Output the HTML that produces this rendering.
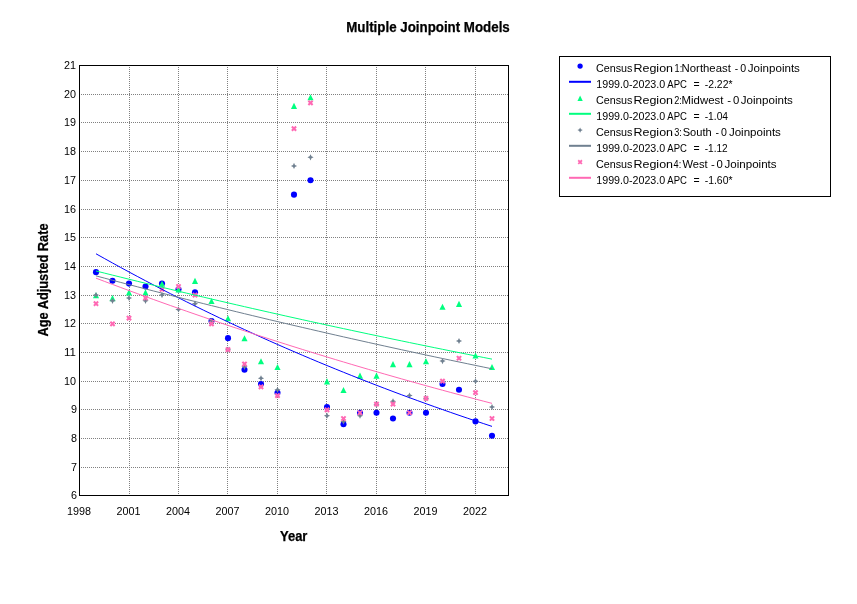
<!DOCTYPE html>
<html><head><meta charset="utf-8"><title>Multiple Joinpoint Models</title>
<style>
html,body{margin:0;padding:0;background:#fff;}
body{width:857px;height:604px;overflow:hidden;}
svg{display:block;font-family:"Liberation Sans",sans-serif;}
.tk{font-size:11.5px;fill:#000;}
.lg{font-size:11.5px;fill:#000;}
.b{font-weight:bold;font-size:14px;fill:#000;stroke:#000;stroke-width:0.25px;}
</style></head><body>
<svg width="857" height="604" viewBox="0 0 857 604">
<rect width="857" height="604" fill="#fff"/>
<g stroke="#808080" stroke-width="1" stroke-dasharray="1 1" stroke-dashoffset="1" shape-rendering="crispEdges"><line x1="80.0" x2="508.0" y1="467.5" y2="467.5"/><line x1="80.0" x2="508.0" y1="438.5" y2="438.5"/><line x1="80.0" x2="508.0" y1="409.5" y2="409.5"/><line x1="80.0" x2="508.0" y1="381.5" y2="381.5"/><line x1="80.0" x2="508.0" y1="352.5" y2="352.5"/><line x1="80.0" x2="508.0" y1="323.5" y2="323.5"/><line x1="80.0" x2="508.0" y1="295.5" y2="295.5"/><line x1="80.0" x2="508.0" y1="266.5" y2="266.5"/><line x1="80.0" x2="508.0" y1="237.5" y2="237.5"/><line x1="80.0" x2="508.0" y1="209.5" y2="209.5"/><line x1="80.0" x2="508.0" y1="180.5" y2="180.5"/><line x1="80.0" x2="508.0" y1="151.5" y2="151.5"/><line x1="80.0" x2="508.0" y1="122.5" y2="122.5"/><line x1="80.0" x2="508.0" y1="94.5" y2="94.5"/><line y1="66.0" y2="495.0" x1="129.5" x2="129.5"/><line y1="66.0" y2="495.0" x1="178.5" x2="178.5"/><line y1="66.0" y2="495.0" x1="227.5" x2="227.5"/><line y1="66.0" y2="495.0" x1="277.5" x2="277.5"/><line y1="66.0" y2="495.0" x1="326.5" x2="326.5"/><line y1="66.0" y2="495.0" x1="376.5" x2="376.5"/><line y1="66.0" y2="495.0" x1="425.5" x2="425.5"/><line y1="66.0" y2="495.0" x1="475.5" x2="475.5"/></g>
<g><circle cx="96.00" cy="272.14" r="3.05" fill="#0000ff"/><circle cx="112.50" cy="280.75" r="3.05" fill="#0000ff"/><circle cx="129.00" cy="283.62" r="3.05" fill="#0000ff"/><circle cx="145.50" cy="286.49" r="3.05" fill="#0000ff"/><circle cx="162.00" cy="283.62" r="3.05" fill="#0000ff"/><circle cx="178.50" cy="289.36" r="3.05" fill="#0000ff"/><circle cx="195.00" cy="292.23" r="3.05" fill="#0000ff"/><circle cx="211.50" cy="320.93" r="3.05" fill="#0000ff"/><circle cx="228.00" cy="338.15" r="3.05" fill="#0000ff"/><circle cx="244.50" cy="369.72" r="3.05" fill="#0000ff"/><circle cx="261.00" cy="384.07" r="3.05" fill="#0000ff"/><circle cx="277.50" cy="392.68" r="3.05" fill="#0000ff"/><circle cx="294.00" cy="194.65" r="3.05" fill="#0000ff"/><circle cx="310.50" cy="180.30" r="3.05" fill="#0000ff"/><circle cx="327.00" cy="407.03" r="3.05" fill="#0000ff"/><circle cx="343.50" cy="424.25" r="3.05" fill="#0000ff"/><circle cx="360.00" cy="412.77" r="3.05" fill="#0000ff"/><circle cx="376.50" cy="412.77" r="3.05" fill="#0000ff"/><circle cx="393.00" cy="418.51" r="3.05" fill="#0000ff"/><circle cx="409.50" cy="412.77" r="3.05" fill="#0000ff"/><circle cx="426.00" cy="412.77" r="3.05" fill="#0000ff"/><circle cx="442.50" cy="384.07" r="3.05" fill="#0000ff"/><circle cx="459.00" cy="389.81" r="3.05" fill="#0000ff"/><circle cx="475.50" cy="421.38" r="3.05" fill="#0000ff"/><circle cx="492.00" cy="435.73" r="3.05" fill="#0000ff"/></g>
<g><polygon points="96.00,292.20 92.95,298.30 99.05,298.30" fill="#00ff7f"/><polygon points="112.50,295.07 109.45,301.17 115.55,301.17" fill="#00ff7f"/><polygon points="129.00,289.33 125.95,295.43 132.05,295.43" fill="#00ff7f"/><polygon points="145.50,289.33 142.45,295.43 148.55,295.43" fill="#00ff7f"/><polygon points="162.00,280.72 158.95,286.82 165.05,286.82" fill="#00ff7f"/><polygon points="178.50,286.46 175.45,292.56 181.55,292.56" fill="#00ff7f"/><polygon points="195.00,277.85 191.95,283.95 198.05,283.95" fill="#00ff7f"/><polygon points="211.50,297.94 208.45,304.04 214.55,304.04" fill="#00ff7f"/><polygon points="228.00,315.16 224.95,321.26 231.05,321.26" fill="#00ff7f"/><polygon points="244.50,335.25 241.45,341.35 247.55,341.35" fill="#00ff7f"/><polygon points="261.00,358.21 257.95,364.31 264.05,364.31" fill="#00ff7f"/><polygon points="277.50,363.95 274.45,370.05 280.55,370.05" fill="#00ff7f"/><polygon points="294.00,102.78 290.95,108.88 297.05,108.88" fill="#00ff7f"/><polygon points="310.50,94.17 307.45,100.27 313.55,100.27" fill="#00ff7f"/><polygon points="327.00,378.30 323.95,384.40 330.05,384.40" fill="#00ff7f"/><polygon points="343.50,386.91 340.45,393.01 346.55,393.01" fill="#00ff7f"/><polygon points="360.00,372.56 356.95,378.66 363.05,378.66" fill="#00ff7f"/><polygon points="376.50,372.56 373.45,378.66 379.55,378.66" fill="#00ff7f"/><polygon points="393.00,361.08 389.95,367.18 396.05,367.18" fill="#00ff7f"/><polygon points="409.50,361.08 406.45,367.18 412.55,367.18" fill="#00ff7f"/><polygon points="426.00,358.21 422.95,364.31 429.05,364.31" fill="#00ff7f"/><polygon points="442.50,303.68 439.45,309.78 445.55,309.78" fill="#00ff7f"/><polygon points="459.00,300.81 455.95,306.91 462.05,306.91" fill="#00ff7f"/><polygon points="475.50,352.47 472.45,358.57 478.55,358.57" fill="#00ff7f"/><polygon points="492.00,363.95 488.95,370.05 495.05,370.05" fill="#00ff7f"/></g>
<g><polygon points="96.00,292.00 97.00,294.10 99.10,295.10 97.00,296.10 96.00,298.20 95.00,296.10 92.90,295.10 95.00,294.10" fill="#708090"/><polygon points="112.50,297.74 113.50,299.84 115.60,300.84 113.50,301.84 112.50,303.94 111.50,301.84 109.40,300.84 111.50,299.84" fill="#708090"/><polygon points="129.00,294.87 130.00,296.97 132.10,297.97 130.00,298.97 129.00,301.07 128.00,298.97 125.90,297.97 128.00,296.97" fill="#708090"/><polygon points="145.50,297.74 146.50,299.84 148.60,300.84 146.50,301.84 145.50,303.94 144.50,301.84 142.40,300.84 144.50,299.84" fill="#708090"/><polygon points="162.00,292.00 163.00,294.10 165.10,295.10 163.00,296.10 162.00,298.20 161.00,296.10 158.90,295.10 161.00,294.10" fill="#708090"/><polygon points="178.50,306.35 179.50,308.45 181.60,309.45 179.50,310.45 178.50,312.55 177.50,310.45 175.40,309.45 177.50,308.45" fill="#708090"/><polygon points="195.00,300.61 196.00,302.71 198.10,303.71 196.00,304.71 195.00,306.81 194.00,304.71 191.90,303.71 194.00,302.71" fill="#708090"/><polygon points="211.50,317.83 212.50,319.93 214.60,320.93 212.50,321.93 211.50,324.03 210.50,321.93 208.40,320.93 210.50,319.93" fill="#708090"/><polygon points="228.00,346.53 229.00,348.63 231.10,349.63 229.00,350.63 228.00,352.73 227.00,350.63 224.90,349.63 227.00,348.63" fill="#708090"/><polygon points="244.50,363.75 245.50,365.85 247.60,366.85 245.50,367.85 244.50,369.95 243.50,367.85 241.40,366.85 243.50,365.85" fill="#708090"/><polygon points="261.00,375.23 262.00,377.33 264.10,378.33 262.00,379.33 261.00,381.43 260.00,379.33 257.90,378.33 260.00,377.33" fill="#708090"/><polygon points="277.50,386.71 278.50,388.81 280.60,389.81 278.50,390.81 277.50,392.91 276.50,390.81 274.40,389.81 276.50,388.81" fill="#708090"/><polygon points="294.00,162.85 295.00,164.95 297.10,165.95 295.00,166.95 294.00,169.05 293.00,166.95 290.90,165.95 293.00,164.95" fill="#708090"/><polygon points="310.50,154.24 311.50,156.34 313.60,157.34 311.50,158.34 310.50,160.44 309.50,158.34 307.40,157.34 309.50,156.34" fill="#708090"/><polygon points="327.00,412.54 328.00,414.64 330.10,415.64 328.00,416.64 327.00,418.74 326.00,416.64 323.90,415.64 326.00,414.64" fill="#708090"/><polygon points="343.50,418.28 344.50,420.38 346.60,421.38 344.50,422.38 343.50,424.48 342.50,422.38 340.40,421.38 342.50,420.38" fill="#708090"/><polygon points="360.00,412.54 361.00,414.64 363.10,415.64 361.00,416.64 360.00,418.74 359.00,416.64 356.90,415.64 359.00,414.64" fill="#708090"/><polygon points="376.50,401.06 377.50,403.16 379.60,404.16 377.50,405.16 376.50,407.26 375.50,405.16 373.40,404.16 375.50,403.16" fill="#708090"/><polygon points="393.00,398.19 394.00,400.29 396.10,401.29 394.00,402.29 393.00,404.39 392.00,402.29 389.90,401.29 392.00,400.29" fill="#708090"/><polygon points="409.50,392.45 410.50,394.55 412.60,395.55 410.50,396.55 409.50,398.65 408.50,396.55 406.40,395.55 408.50,394.55" fill="#708090"/><polygon points="426.00,395.32 427.00,397.42 429.10,398.42 427.00,399.42 426.00,401.52 425.00,399.42 422.90,398.42 425.00,397.42" fill="#708090"/><polygon points="442.50,358.01 443.50,360.11 445.60,361.11 443.50,362.11 442.50,364.21 441.50,362.11 439.40,361.11 441.50,360.11" fill="#708090"/><polygon points="459.00,337.92 460.00,340.02 462.10,341.02 460.00,342.02 459.00,344.12 458.00,342.02 455.90,341.02 458.00,340.02" fill="#708090"/><polygon points="475.50,378.10 476.50,380.20 478.60,381.20 476.50,382.20 475.50,384.30 474.50,382.20 472.40,381.20 474.50,380.20" fill="#708090"/><polygon points="492.00,403.93 493.00,406.03 495.10,407.03 493.00,408.03 492.00,410.13 491.00,408.03 488.90,407.03 491.00,406.03" fill="#708090"/></g>
<g><path d="M94.60,302.31L97.40,305.11M94.60,305.11L97.40,302.31" stroke="#ff69b4" stroke-width="2.05" stroke-linecap="square" fill="none"/><path d="M111.10,322.40L113.90,325.20M111.10,325.20L113.90,322.40" stroke="#ff69b4" stroke-width="2.05" stroke-linecap="square" fill="none"/><path d="M127.60,316.66L130.40,319.46M127.60,319.46L130.40,316.66" stroke="#ff69b4" stroke-width="2.05" stroke-linecap="square" fill="none"/><path d="M144.10,296.57L146.90,299.37M144.10,299.37L146.90,296.57" stroke="#ff69b4" stroke-width="2.05" stroke-linecap="square" fill="none"/><path d="M160.60,287.96L163.40,290.76M160.60,290.76L163.40,287.96" stroke="#ff69b4" stroke-width="2.05" stroke-linecap="square" fill="none"/><path d="M177.10,285.09L179.90,287.89M177.10,287.89L179.90,285.09" stroke="#ff69b4" stroke-width="2.05" stroke-linecap="square" fill="none"/><path d="M193.60,293.70L196.40,296.50M193.60,296.50L196.40,293.70" stroke="#ff69b4" stroke-width="2.05" stroke-linecap="square" fill="none"/><path d="M210.10,322.40L212.90,325.20M210.10,325.20L212.90,322.40" stroke="#ff69b4" stroke-width="2.05" stroke-linecap="square" fill="none"/><path d="M226.60,348.23L229.40,351.03M226.60,351.03L229.40,348.23" stroke="#ff69b4" stroke-width="2.05" stroke-linecap="square" fill="none"/><path d="M243.10,362.58L245.90,365.38M243.10,365.38L245.90,362.58" stroke="#ff69b4" stroke-width="2.05" stroke-linecap="square" fill="none"/><path d="M259.60,385.54L262.40,388.34M259.60,388.34L262.40,385.54" stroke="#ff69b4" stroke-width="2.05" stroke-linecap="square" fill="none"/><path d="M276.10,394.15L278.90,396.95M276.10,396.95L278.90,394.15" stroke="#ff69b4" stroke-width="2.05" stroke-linecap="square" fill="none"/><path d="M292.60,127.24L295.40,130.04M292.60,130.04L295.40,127.24" stroke="#ff69b4" stroke-width="2.05" stroke-linecap="square" fill="none"/><path d="M309.10,101.41L311.90,104.21M309.10,104.21L311.90,101.41" stroke="#ff69b4" stroke-width="2.05" stroke-linecap="square" fill="none"/><path d="M325.60,408.50L328.40,411.30M325.60,411.30L328.40,408.50" stroke="#ff69b4" stroke-width="2.05" stroke-linecap="square" fill="none"/><path d="M342.10,417.11L344.90,419.91M342.10,419.91L344.90,417.11" stroke="#ff69b4" stroke-width="2.05" stroke-linecap="square" fill="none"/><path d="M358.60,411.37L361.40,414.17M358.60,414.17L361.40,411.37" stroke="#ff69b4" stroke-width="2.05" stroke-linecap="square" fill="none"/><path d="M375.10,402.76L377.90,405.56M375.10,405.56L377.90,402.76" stroke="#ff69b4" stroke-width="2.05" stroke-linecap="square" fill="none"/><path d="M391.60,402.76L394.40,405.56M391.60,405.56L394.40,402.76" stroke="#ff69b4" stroke-width="2.05" stroke-linecap="square" fill="none"/><path d="M408.10,411.37L410.90,414.17M408.10,414.17L410.90,411.37" stroke="#ff69b4" stroke-width="2.05" stroke-linecap="square" fill="none"/><path d="M424.60,397.02L427.40,399.82M424.60,399.82L427.40,397.02" stroke="#ff69b4" stroke-width="2.05" stroke-linecap="square" fill="none"/><path d="M441.10,379.80L443.90,382.60M441.10,382.60L443.90,379.80" stroke="#ff69b4" stroke-width="2.05" stroke-linecap="square" fill="none"/><path d="M457.60,356.84L460.40,359.64M457.60,359.64L460.40,356.84" stroke="#ff69b4" stroke-width="2.05" stroke-linecap="square" fill="none"/><path d="M474.10,391.28L476.90,394.08M474.10,394.08L476.90,391.28" stroke="#ff69b4" stroke-width="2.05" stroke-linecap="square" fill="none"/><path d="M490.60,417.11L493.40,419.91M490.60,419.91L493.40,417.11" stroke="#ff69b4" stroke-width="2.05" stroke-linecap="square" fill="none"/></g>
<polyline points="96.00,253.77 104.25,258.40 112.50,262.97 120.75,267.50 129.00,271.97 137.25,276.39 145.50,280.76 153.75,285.09 162.00,289.37 170.25,293.59 178.50,297.78 186.75,301.91 195.00,306.00 203.25,310.04 211.50,314.04 219.75,317.99 228.00,321.90 236.25,325.77 244.50,329.59 252.75,333.37 261.00,337.11 269.25,340.80 277.50,344.46 285.75,348.07 294.00,351.64 302.25,355.18 310.50,358.67 318.75,362.13 327.00,365.54 335.25,368.92 343.50,372.26 351.75,375.57 360.00,378.83 368.25,382.06 376.50,385.26 384.75,388.41 393.00,391.54 401.25,394.63 409.50,397.68 417.75,400.70 426.00,403.69 434.25,406.64 442.50,409.56 450.75,412.44 459.00,415.30 467.25,418.12 475.50,420.91 483.75,423.67 492.00,426.40" fill="none" stroke="#0000ff" stroke-width="1.0"/>
<polyline points="96.00,270.99 104.25,273.06 112.50,275.12 120.75,277.17 129.00,279.21 137.25,281.24 145.50,283.26 153.75,285.26 162.00,287.26 170.25,289.25 178.50,291.22 186.75,293.19 195.00,295.14 203.25,297.09 211.50,299.02 219.75,300.95 228.00,302.86 236.25,304.77 244.50,306.66 252.75,308.55 261.00,310.42 269.25,312.29 277.50,314.14 285.75,315.99 294.00,317.82 302.25,319.65 310.50,321.47 318.75,323.28 327.00,325.07 335.25,326.86 343.50,328.64 351.75,330.41 360.00,332.17 368.25,333.93 376.50,335.67 384.75,337.40 393.00,339.13 401.25,340.84 409.50,342.55 417.75,344.25 426.00,345.94 434.25,347.62 442.50,349.29 450.75,350.95 459.00,352.60 467.25,354.25 475.50,355.89 483.75,357.51 492.00,359.13" fill="none" stroke="#00ff7f" stroke-width="1.0"/>
<polyline points="96.00,275.87 104.25,278.07 112.50,280.27 120.75,282.44 129.00,284.61 137.25,286.76 145.50,288.91 153.75,291.04 162.00,293.15 170.25,295.26 178.50,297.35 186.75,299.44 195.00,301.51 203.25,303.57 211.50,305.62 219.75,307.65 228.00,309.68 236.25,311.69 244.50,313.69 252.75,315.68 261.00,317.66 269.25,319.63 277.50,321.59 285.75,323.53 294.00,325.47 302.25,327.39 310.50,329.31 318.75,331.21 327.00,333.10 335.25,334.99 343.50,336.86 351.75,338.72 360.00,340.57 368.25,342.41 376.50,344.24 384.75,346.06 393.00,347.87 401.25,349.67 409.50,351.45 417.75,353.23 426.00,355.00 434.25,356.76 442.50,358.51 450.75,360.25 459.00,361.98 467.25,363.70 475.50,365.41 483.75,367.11 492.00,368.80" fill="none" stroke="#708090" stroke-width="1.0"/>
<polyline points="96.00,278.17 104.25,281.30 112.50,284.41 120.75,287.49 129.00,290.55 137.25,293.58 145.50,296.59 153.75,299.58 162.00,302.54 170.25,305.47 178.50,308.39 186.75,311.28 195.00,314.14 203.25,316.99 211.50,319.81 219.75,322.61 228.00,325.38 236.25,328.14 244.50,330.87 252.75,333.58 261.00,336.27 269.25,338.93 277.50,341.58 285.75,344.20 294.00,346.80 302.25,349.38 310.50,351.94 318.75,354.49 327.00,357.00 335.25,359.50 343.50,361.98 351.75,364.44 360.00,366.88 368.25,369.30 376.50,371.70 384.75,374.09 393.00,376.45 401.25,378.79 409.50,381.12 417.75,383.42 426.00,385.71 434.25,387.98 442.50,390.23 450.75,392.46 459.00,394.68 467.25,396.87 475.50,399.05 483.75,401.22 492.00,403.36" fill="none" stroke="#ff69b4" stroke-width="1.0"/>
<rect x="79.5" y="65.5" width="429.0" height="430.0" fill="none" stroke="#000" stroke-width="1" shape-rendering="crispEdges"/>
<text class="tk" x="77" y="499.2" text-anchor="end" textLength="6" lengthAdjust="spacingAndGlyphs">6</text><text class="tk" x="77" y="470.6" text-anchor="end" textLength="6" lengthAdjust="spacingAndGlyphs">7</text><text class="tk" x="77" y="441.9" text-anchor="end" textLength="6" lengthAdjust="spacingAndGlyphs">8</text><text class="tk" x="77" y="413.2" text-anchor="end" textLength="6" lengthAdjust="spacingAndGlyphs">9</text><text class="tk" x="76" y="384.5" text-anchor="end" textLength="12" lengthAdjust="spacingAndGlyphs">10</text><text class="tk" x="76" y="355.9" text-anchor="end" textLength="12" lengthAdjust="spacingAndGlyphs">11</text><text class="tk" x="76" y="327.2" text-anchor="end" textLength="12" lengthAdjust="spacingAndGlyphs">12</text><text class="tk" x="76" y="298.5" text-anchor="end" textLength="12" lengthAdjust="spacingAndGlyphs">13</text><text class="tk" x="76" y="269.8" text-anchor="end" textLength="12" lengthAdjust="spacingAndGlyphs">14</text><text class="tk" x="76" y="241.1" text-anchor="end" textLength="12" lengthAdjust="spacingAndGlyphs">15</text><text class="tk" x="76" y="212.5" text-anchor="end" textLength="12" lengthAdjust="spacingAndGlyphs">16</text><text class="tk" x="76" y="183.8" text-anchor="end" textLength="12" lengthAdjust="spacingAndGlyphs">17</text><text class="tk" x="76" y="155.1" text-anchor="end" textLength="12" lengthAdjust="spacingAndGlyphs">18</text><text class="tk" x="76" y="126.4" text-anchor="end" textLength="12" lengthAdjust="spacingAndGlyphs">19</text><text class="tk" x="76" y="97.7" text-anchor="end" textLength="12" lengthAdjust="spacingAndGlyphs">20</text><text class="tk" x="76" y="69.0" text-anchor="end" textLength="12" lengthAdjust="spacingAndGlyphs">21</text>
<text class="tk" x="79.1" y="515" text-anchor="middle" textLength="24" lengthAdjust="spacingAndGlyphs">1998</text><text class="tk" x="128.6" y="515" text-anchor="middle" textLength="24" lengthAdjust="spacingAndGlyphs">2001</text><text class="tk" x="178.1" y="515" text-anchor="middle" textLength="24" lengthAdjust="spacingAndGlyphs">2004</text><text class="tk" x="227.6" y="515" text-anchor="middle" textLength="24" lengthAdjust="spacingAndGlyphs">2007</text><text class="tk" x="277.1" y="515" text-anchor="middle" textLength="24" lengthAdjust="spacingAndGlyphs">2010</text><text class="tk" x="326.6" y="515" text-anchor="middle" textLength="24" lengthAdjust="spacingAndGlyphs">2013</text><text class="tk" x="376.1" y="515" text-anchor="middle" textLength="24" lengthAdjust="spacingAndGlyphs">2016</text><text class="tk" x="425.6" y="515" text-anchor="middle" textLength="24" lengthAdjust="spacingAndGlyphs">2019</text><text class="tk" x="475.1" y="515" text-anchor="middle" textLength="24" lengthAdjust="spacingAndGlyphs">2022</text>
<text class="b" x="428" y="32.2" text-anchor="middle" textLength="163.5" lengthAdjust="spacingAndGlyphs">Multiple Joinpoint Models</text>
<text class="b" x="293.7" y="540.8" text-anchor="middle" textLength="27.4" lengthAdjust="spacingAndGlyphs">Year</text>
<text class="b" transform="translate(47.7,280) rotate(-90)" text-anchor="middle" textLength="113" lengthAdjust="spacingAndGlyphs">Age Adjusted Rate</text>
<rect x="559.5" y="56.5" width="271" height="140" fill="#fff" stroke="#000" stroke-width="1" shape-rendering="crispEdges"/>
<circle cx="580.10" cy="66.10" r="2.65" fill="#0000ff"/><line x1="569" x2="591" y1="81.8" y2="81.8" stroke="#0000ff" stroke-width="2"/>
<polygon points="580.10,95.58 577.45,100.88 582.75,100.88" fill="#00ff7f"/><line x1="569" x2="591" y1="113.8" y2="113.8" stroke="#00ff7f" stroke-width="2"/>
<polygon points="580.10,127.40 580.97,129.23 582.80,130.10 580.97,130.97 580.10,132.80 579.23,130.97 577.40,130.10 579.23,129.23" fill="#708090"/><line x1="569" x2="591" y1="145.8" y2="145.8" stroke="#708090" stroke-width="2"/>
<path d="M578.88,160.88L581.32,163.32M578.88,163.32L581.32,160.88" stroke="#ff69b4" stroke-width="1.78" stroke-linecap="square" fill="none"/><line x1="569" x2="591" y1="177.8" y2="177.8" stroke="#ff69b4" stroke-width="2"/>
<text class="lg" y="72"><tspan x="595.9" textLength="36.5" lengthAdjust="spacingAndGlyphs">Census</tspan> <tspan x="633.5" textLength="39.5" lengthAdjust="spacingAndGlyphs">Region</tspan> <tspan x="674.6" textLength="7.6" lengthAdjust="spacingAndGlyphs">1:</tspan> <tspan x="681.6" textLength="49.2" lengthAdjust="spacingAndGlyphs">Northeast</tspan> <tspan x="734.7" textLength="3.4" lengthAdjust="spacingAndGlyphs">-</tspan> <tspan x="740.3" textLength="5.9" lengthAdjust="spacingAndGlyphs">0</tspan> <tspan x="747.8" textLength="52.1" lengthAdjust="spacingAndGlyphs">Joinpoints</tspan></text>
<text class="lg" y="88"><tspan x="596.3" textLength="68.9" lengthAdjust="spacingAndGlyphs">1999.0-2023.0</tspan> <tspan x="667.3" textLength="19.6" lengthAdjust="spacingAndGlyphs">APC</tspan> <tspan x="693.4" textLength="6.1" lengthAdjust="spacingAndGlyphs">=</tspan> <tspan x="704.7" textLength="27.8" lengthAdjust="spacingAndGlyphs">-2.22*</tspan></text>
<text class="lg" y="104"><tspan x="595.9" textLength="36.5" lengthAdjust="spacingAndGlyphs">Census</tspan> <tspan x="633.5" textLength="39.5" lengthAdjust="spacingAndGlyphs">Region</tspan> <tspan x="674.3" textLength="7.6" lengthAdjust="spacingAndGlyphs">2:</tspan> <tspan x="681.6" textLength="41.8" lengthAdjust="spacingAndGlyphs">Midwest</tspan> <tspan x="727.3" textLength="3.8" lengthAdjust="spacingAndGlyphs">-</tspan> <tspan x="732.9" textLength="6.3" lengthAdjust="spacingAndGlyphs">0</tspan> <tspan x="740.8" textLength="52.1" lengthAdjust="spacingAndGlyphs">Joinpoints</tspan></text>
<text class="lg" y="120"><tspan x="596.3" textLength="68.9" lengthAdjust="spacingAndGlyphs">1999.0-2023.0</tspan> <tspan x="667.3" textLength="19.6" lengthAdjust="spacingAndGlyphs">APC</tspan> <tspan x="693.4" textLength="6.1" lengthAdjust="spacingAndGlyphs">=</tspan> <tspan x="704.7" textLength="23.4" lengthAdjust="spacingAndGlyphs">-1.04</tspan></text>
<text class="lg" y="136"><tspan x="595.9" textLength="36.5" lengthAdjust="spacingAndGlyphs">Census</tspan> <tspan x="633.5" textLength="39.5" lengthAdjust="spacingAndGlyphs">Region</tspan> <tspan x="674.3" textLength="7.6" lengthAdjust="spacingAndGlyphs">3:</tspan> <tspan x="682.7" textLength="29.0" lengthAdjust="spacingAndGlyphs">South</tspan> <tspan x="715.4" textLength="3.5" lengthAdjust="spacingAndGlyphs">-</tspan> <tspan x="721.0" textLength="5.9" lengthAdjust="spacingAndGlyphs">0</tspan> <tspan x="728.9" textLength="52.0" lengthAdjust="spacingAndGlyphs">Joinpoints</tspan></text>
<text class="lg" y="152"><tspan x="596.3" textLength="68.9" lengthAdjust="spacingAndGlyphs">1999.0-2023.0</tspan> <tspan x="667.3" textLength="19.6" lengthAdjust="spacingAndGlyphs">APC</tspan> <tspan x="693.4" textLength="6.1" lengthAdjust="spacingAndGlyphs">=</tspan> <tspan x="704.7" textLength="23.0" lengthAdjust="spacingAndGlyphs">-1.12</tspan></text>
<text class="lg" y="168"><tspan x="595.9" textLength="36.5" lengthAdjust="spacingAndGlyphs">Census</tspan> <tspan x="633.5" textLength="39.5" lengthAdjust="spacingAndGlyphs">Region</tspan> <tspan x="673.6" textLength="7.6" lengthAdjust="spacingAndGlyphs">4:</tspan> <tspan x="682.5" textLength="25.2" lengthAdjust="spacingAndGlyphs">West</tspan> <tspan x="710.9" textLength="3.8" lengthAdjust="spacingAndGlyphs">-</tspan> <tspan x="716.6" textLength="6.3" lengthAdjust="spacingAndGlyphs">0</tspan> <tspan x="724.5" textLength="52.1" lengthAdjust="spacingAndGlyphs">Joinpoints</tspan></text>
<text class="lg" y="184"><tspan x="596.3" textLength="68.9" lengthAdjust="spacingAndGlyphs">1999.0-2023.0</tspan> <tspan x="667.3" textLength="19.6" lengthAdjust="spacingAndGlyphs">APC</tspan> <tspan x="693.4" textLength="6.1" lengthAdjust="spacingAndGlyphs">=</tspan> <tspan x="704.7" textLength="27.8" lengthAdjust="spacingAndGlyphs">-1.60*</tspan></text>
</svg></body></html>
